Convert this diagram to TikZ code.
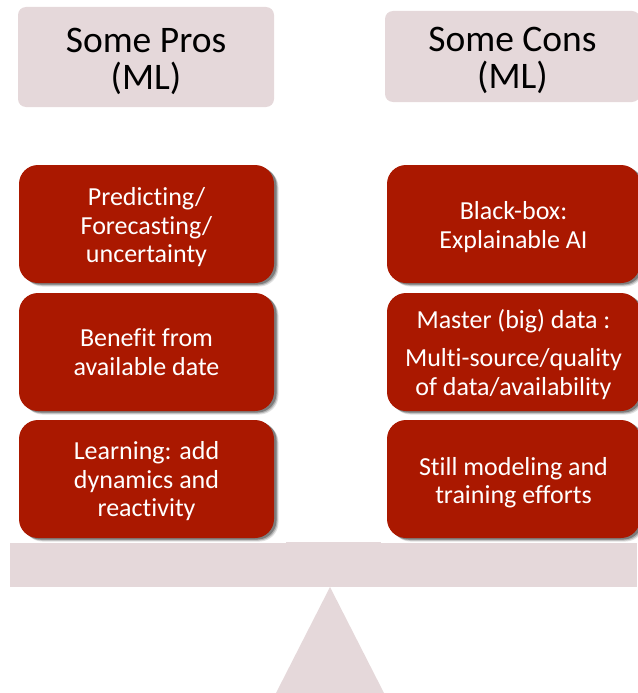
\documentclass[tikz,border=0pt]{standalone}
\usepackage{fontspec}
\setmainfont[Ligatures=NoCommon]{Carlito}
\usetikzlibrary{shadows}
\definecolor{paleRose}{RGB}{229,216,218}
\definecolor{deepRed}{RGB}{170,24,0}
\newcommand{\pushtext}[1]{\rule{0pt}{#1}}
\tikzset{
  headbox/.style={fill=paleRose,rounded corners=8pt,inner sep=0pt,align=center,text=black,
    font=\fontsize{37.5}{37}\selectfont},
  redbox/.style={fill=deepRed,rounded corners=19pt,inner sep=0pt,align=center,text=white,
    minimum height=118pt,font=\fontsize{26}{28.5}\selectfont,
    general shadow={shadow xshift=4.5pt,shadow yshift=-3.5pt,fill=black,opacity=.12},
    general shadow={shadow xshift=3.5pt,shadow yshift=-2.5pt,fill=black,opacity=.2},
    general shadow={shadow xshift=2.5pt,shadow yshift=-1.5pt,fill=black,opacity=.3}},
  leftbox/.style={redbox,minimum width=255pt},
  rightbox/.style={redbox,minimum width=253pt},
  paleshape/.style={fill=paleRose,draw=none}
}
\begin{document}
\begin{tikzpicture}[x=1pt,y=-1pt]
\useasboundingbox (0,0) rectangle (637,693);
% balance
\fill[paleshape] (10,543) rectangle (637,587);
\fill[paleshape] (286,542) rectangle (381,544);
\fill[paleshape] (330,587) -- (384,693) -- (276,693) -- cycle;
% headers
\node[headbox,minimum width=256pt,minimum height=100pt] (pros) at (146,57) {\pushtext{33pt}Some Pros\\(ML)};
\node[headbox,minimum width=255pt,minimum height=91pt] (cons) at (512.5,56.5) {\pushtext{33pt}Some Cons\\(ML)};
% pros
\node[leftbox] (p1) at (146.5,224) {\pushtext{25pt}Predicting/\\Forecasting/\\uncertainty};
\node[leftbox] (p2) at (146.5,352) {Benefit from\\available date};
\node[leftbox] (p3) at (146.5,479) {\pushtext{23pt}Learning: add\\dynamics and\\reactivity};
% cons
\node[rightbox] (c1) at (513.5,224) {\pushtext{24pt}Black-box:\\Explainable AI};
\node[rightbox] (c2) at (513.5,352) {\pushtext{24pt}Master (big) data :\\[9.5pt]Multi-source/quality\\of data/availability};
\node[rightbox] (c3) at (513.5,479) {\pushtext{25pt}Still modeling and\\training efforts};
\end{tikzpicture}
\end{document}
